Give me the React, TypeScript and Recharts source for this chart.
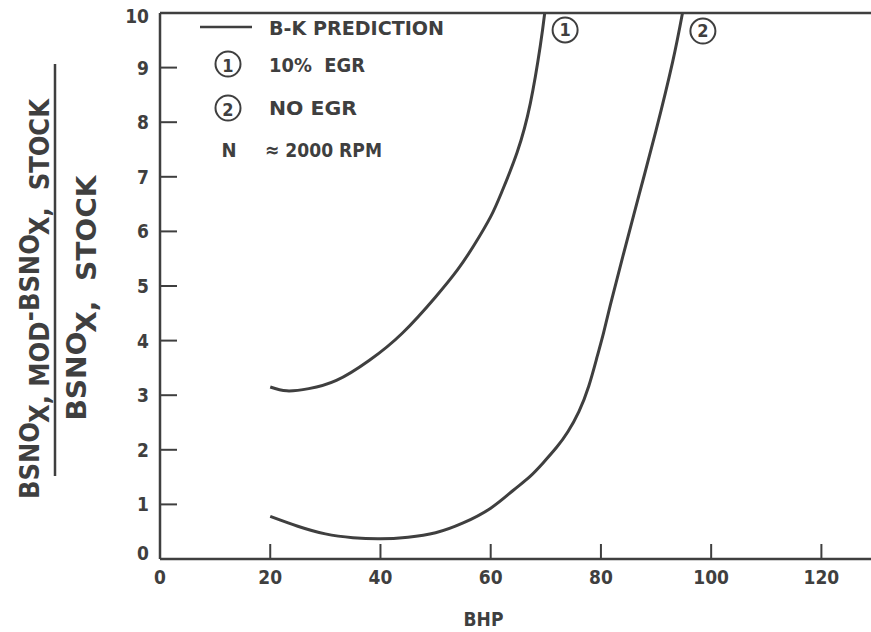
import { LineChart, Line, XAxis, YAxis, ReferenceLine, ReferenceDot, Label } from 'recharts';

const egr10Bhp = [20, 23, 27, 32, 38, 44, 50, 54, 57, 60, 62, 64.8, 67.2, 69, 69.8];
const egr10Ratio = [3.15, 3.08, 3.12, 3.27, 3.64, 4.14, 4.8, 5.3, 5.75, 6.27, 6.72, 7.45, 8.35, 9.4, 10];

const noEgrBhp = [20, 25, 30, 35, 40, 45, 50, 55, 60, 64, 67, 69.5, 72, 74, 76, 77.8, 79.3, 80.5, 81.7, 84, 87, 90, 93, 94.8];
const noEgrRatio = [0.78, 0.6, 0.46, 0.39, 0.37, 0.4, 0.48, 0.66, 0.93, 1.25, 1.5, 1.76, 2.05, 2.33, 2.7, 3.17, 3.7, 4.15, 4.65, 5.55, 6.7, 7.85, 9.1, 10];

const xTicks = [0, 20, 40, 60, 80, 100, 120];
const yTicks = [0, 1, 2, 3, 4, 5, 6, 7, 8, 9, 10];

// curve tags drawn at the top end of each curve
const curveTags = [
  { id: '1', bhp: 73.5, ratio: 9.69 },
  { id: '2', bhp: 98.5, ratio: 9.67 },
];

const egr10Data = egr10Bhp.map((bhp, i) => ({ bhp, ratio: egr10Ratio[i] }));
const noEgrData = noEgrBhp.map((bhp, i) => ({ bhp, ratio: noEgrRatio[i] }));

const INK = '#3f3f3f';
const FONT = '"DejaVu Sans Condensed", "Liberation Sans Narrow", Arial, sans-serif';

function XTick(props: any) {
  const { x, y, payload } = props;
  return (
    <g>
      {payload.value !== 0 && <line x1={x} x2={x} y1={y} y2={y - 15} stroke={INK} strokeWidth={2} />}
      <text x={x} y={y + 18} textAnchor="middle" dominantBaseline="central" fill={INK}
        fontFamily={FONT} fontWeight="bold" fontSize={19}>{payload.value}</text>
    </g>
  );
}

function YTick(props: any) {
  const { x, y, payload } = props;
  const lift = payload.value === 0 ? -6 : payload.value === 10 ? 3 : 0;
  return (
    <g>
      {payload.value !== 0 && payload.value !== 10 && (
        <line x1={x} x2={x + 17} y1={y} y2={y} stroke={INK} strokeWidth={2} />
      )}
      <text x={x - 11} y={y + lift} textAnchor="end" dominantBaseline="central" fill={INK}
        fontFamily={FONT} fontWeight="bold" fontSize={19}>{payload.value}</text>
    </g>
  );
}

function YTitle() {
  const sub = { dy: 10 };
  const unsub = { dy: -10 };
  return (
    <g fill={INK} fontFamily={FONT} fontWeight="bold" fontSize={26}>
      <text transform="translate(39,299) rotate(-90)" textAnchor="middle" textLength={400}
        lengthAdjust="spacingAndGlyphs">
        BSNO<tspan {...sub}>X, MOD</tspan><tspan {...unsub}>-BSNO</tspan><tspan {...sub}>X,{'\u00a0'} STOCK</tspan>
      </text>
      <line x1={55} x2={55} y1={64} y2={476} stroke={INK} strokeWidth={2.5} />
      <text transform="translate(86,298) rotate(-90)" textAnchor="middle" textLength={245}
        lengthAdjust="spacingAndGlyphs">
        BSNO<tspan {...sub}>X,{'\u00a0'} STOCK</tspan>
      </text>
    </g>
  );
}

function Circled({ cx, cy, n }: { cx: number; cy: number; n: string }) {
  return (
    <g>
      <circle cx={cx} cy={cy} r={12.5} fill="none" stroke={INK} strokeWidth={2} />
      <text x={cx} y={cy + 1} textAnchor="middle" dominantBaseline="central" fontSize={18}>{n}</text>
    </g>
  );
}

function LegendBox() {
  const fit = { dominantBaseline: 'central' as const, lengthAdjust: 'spacingAndGlyphs' as const };
  return (
    <svg width={871} height={632} style={{ position: 'absolute', left: 0, top: 0, pointerEvents: 'none' }}>
      <g fill={INK} fontFamily={FONT} fontWeight="bold" fontSize={20}>
        <line x1={200} x2={252} y1={27} y2={27} stroke={INK} strokeWidth={2.5} />
        <text x={269} y={28} {...fit} textLength={175}>B-K PREDICTION</text>
        <Circled cx={228} cy={64} n="1" />
        <text x={269} y={65} {...fit} textLength={96}>10%{'\u00a0\u00a0'}EGR</text>
        <Circled cx={228} cy={108} n="2" />
        <text x={269} y={108} {...fit} textLength={88}>NO EGR</text>
        <text x={229} y={150} textAnchor="middle" dominantBaseline="central">N</text>
        <text x={265} y={150} {...fit} textLength={117}>≈ 2000 RPM</text>
      </g>
    </svg>
  );
}

export default function App() {
  return (
    <div style={{ position: 'absolute', left: 0, top: 0, width: 871, height: 632, background: '#fff' }}>
      <LineChart width={871} height={632} margin={{ top: 13, right: 0, bottom: 0, left: 0 }}>
        <XAxis type="number" dataKey="bhp" domain={[0, 129]} ticks={xTicks} height={73}
          tickSize={0} tickMargin={0} tick={<XTick />} axisLine={{ stroke: INK, strokeWidth: 2.5 }}
          tickLine={false} allowDataOverflow>
          <Label value="BHP" position="insideBottom" offset={6} dx={-32}
            style={{ fontFamily: FONT, fontWeight: 'bold', fontSize: 19, fill: INK }} />
        </XAxis>
        <YAxis type="number" domain={[0, 10]} ticks={yTicks} width={160}
          tickSize={0} tickMargin={0} tick={<YTick />} axisLine={{ stroke: INK, strokeWidth: 2.5 }}
          tickLine={false} allowDataOverflow>
          <Label content={<YTitle />} />
        </YAxis>
        <ReferenceLine y={10} stroke={INK} strokeWidth={2.5} />
        <Line data={egr10Data} dataKey="ratio" type="natural" stroke={INK} strokeWidth={3}
          dot={false} isAnimationActive={false} />
        <Line data={noEgrData} dataKey="ratio" type="natural" stroke={INK} strokeWidth={3}
          dot={false} isAnimationActive={false} />
        {curveTags.map(t => (
          <ReferenceDot key={t.id} x={t.bhp} y={t.ratio} r={12.5} fill="#fff" stroke={INK} strokeWidth={2}
            label={{ value: t.id, position: 'center', fill: INK, fontFamily: FONT, fontWeight: 'bold', fontSize: 18 }} />
        ))}
      </LineChart>
      <LegendBox />
    </div>
  );
}
